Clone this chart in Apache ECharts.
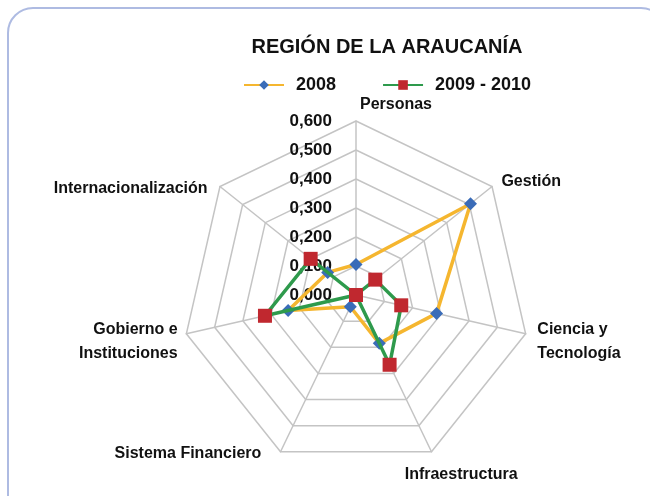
<!DOCTYPE html>
<html>
<head>
<meta charset="utf-8">
<script src="https://cdn.jsdelivr.net/npm/echarts@6/dist/echarts.min.js"></script>
<style>
html,body{margin:0;padding:0;background:#fff;overflow:hidden;}
#wrap{position:relative;width:650px;height:496px;overflow:hidden;}
#chart{width:650px;height:496px;}
#frame{position:absolute;left:7px;top:6.5px;width:660px;height:540px;border:2px solid #aebbe2;border-radius:26px;pointer-events:none;box-sizing:border-box;}
</style>
</head>
<body>
<div id="wrap"><div id="chart"></div><div id="frame"></div></div>
<script>
var titleText = 'REGIÓN DE LA ARAUCANÍA';
var categories = ['Personas', 'Gestión', 'Ciencia y\nTecnología', 'Infraestructura', 'Sistema Financiero', 'Gobierno e\nInstituciones', 'Internacionalización'];
var seriesNames = ['2008', '2009 - 2010'];
var values2008 = [0.105, 0.505, 0.285, 0.185, 0.045, 0.240, 0.125];
var values2009 = [0.000, 0.085, 0.160, 0.267, 0.000, 0.322, 0.200];
var axisMax = 0.6;
var axisSplits = 6;

var FONT = '"Liberation Sans", Arial, sans-serif';
var chart = echarts.init(document.getElementById('chart'), null, {renderer: 'canvas'});

// ECharts radar runs counter-clockwise; reorder so the categories run clockwise like the reference
var order = [0, 6, 5, 4, 3, 2, 1];
function reorder(arr) { return order.map(function (i) { return arr[i]; }); }

var nameStyles = ['pers', 'gest', 'cien', 'infra', 'sist', 'gob', 'intl'];
var indicators = reorder(categories).map(function (c, i) {
  var ind = {name: c, min: 0, max: axisMax};
  if (i === 0) {
    ind.axisLabel = {
      show: true, fontSize: 17, fontWeight: 'bold', color: '#111', fontFamily: FONT, margin: 24,
      formatter: function (v) { return v.toFixed(3).replace('.', ','); }
    };
  }
  return ind;
});

var baseRich = {fontSize: 16, fontWeight: 'bold', color: '#111', fontFamily: FONT, lineHeight: 24};
function rs(extra) { return Object.assign({}, baseRich, extra); }

var option = {
  backgroundColor: '#ffffff',
  animation: false,
  title: {
    text: titleText, left: 382, top: 32, textAlign: 'center',
    textStyle: {fontSize: 20, fontWeight: 'bold', color: '#111', fontFamily: FONT}
  },
  legend: {
    data: seriesNames, left: 238, top: 71, itemWidth: 40, itemHeight: 12, itemGap: 46,
    textStyle: {fontSize: 18, fontWeight: 'bold', color: '#111', fontFamily: FONT, padding: [0, 0, 0, 7]}
  },
  grid: {show: false, left: 0, top: 0, width: 1, height: 1},
  xAxis: {type: 'category', show: false, data: []},
  yAxis: {type: 'value', show: false},
  radar: {
    center: [356, 295],
    radius: 174,
    startAngle: 90,
    splitNumber: axisSplits,
    shape: 'polygon',
    indicator: indicators,
    nameGap: 12,
    axisName: {
      fontSize: 16, fontWeight: 'bold', color: '#111', fontFamily: FONT,
      formatter: function (name) {
        var i = categories.indexOf(name);
        var key = nameStyles[i];
        return name.split('\n').map(function (l, j) { return '{' + key + (j === 0 ? '' : '2') + '|' + l + '}'; }).join('\n');
      },
      rich: {
        pers: rs({padding: [0, 0, 0, 80], lineHeight: 8}),
        gest: rs({padding: [6, 0, 0, 0]}),
        cien: rs({padding: [10, 0, 0, 0]}),
        cien2: rs({padding: [10, 0, 0, 0]}),
        infra: rs({padding: [24, 0, 0, -32]}),
        sist: rs({padding: [0, 14, 18, 0]}),
        gob: rs({padding: [10, -3, 0, 0]}),
        gob2: rs({padding: [10, -3, 0, 0]}),
        intl: rs({padding: [20, 3, 0, 0]})
      }
    },
    axisLine: {lineStyle: {color: '#c4c4c4', width: 1.5}},
    splitLine: {lineStyle: {color: '#c4c4c4', width: 1.5}},
    splitArea: {show: false},
    axisTick: {show: false},
    axisLabel: {show: false}
  },
  series: [
    {
      type: 'line', name: seriesNames[0], data: [], symbol: 'diamond', symbolSize: 11,
      lineStyle: {color: '#F5B62F', width: 3}, itemStyle: {color: '#3A6CB8'}
    },
    {
      type: 'line', name: seriesNames[1], data: [], symbol: 'rect', symbolSize: 12,
      lineStyle: {color: '#2E9A4C', width: 3}, itemStyle: {color: '#C0282F'}
    },
    {
      type: 'radar', name: seriesNames[0], z: 3,
      symbol: 'diamond', symbolSize: 13,
      lineStyle: {color: '#F5B62F', width: 3.5},
      itemStyle: {color: '#3A6CB8'},
      data: [{value: reorder(values2008), name: seriesNames[0]}]
    },
    {
      type: 'radar', name: seriesNames[1], z: 4,
      symbol: 'rect', symbolSize: 14,
      lineStyle: {color: '#2E9A4C', width: 3.5},
      itemStyle: {color: '#C0282F'},
      data: [{value: reorder(values2009), name: seriesNames[1]}]
    }
  ]
};
chart.setOption(option);
</script>
</body>
</html>
